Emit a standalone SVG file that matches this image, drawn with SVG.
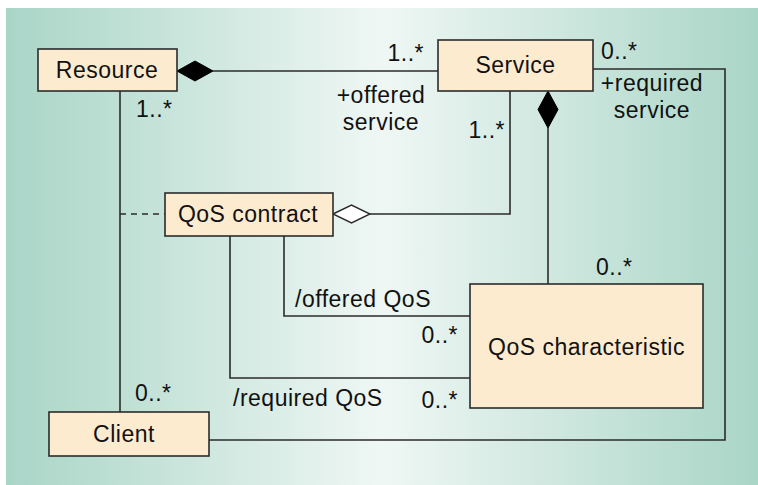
<svg xmlns="http://www.w3.org/2000/svg" width="758" height="485" viewBox="0 0 758 485">
<defs>
<linearGradient id="bg" x1="0" y1="0" x2="1" y2="0">
<stop offset="0" stop-color="#a9d5c7"/>
<stop offset="0.5" stop-color="#eff7f4"/>
<stop offset="1" stop-color="#a9d5c7"/>
</linearGradient>
<style>
.node{fill:#fdebd0;stroke:#2b2b2b;stroke-width:1.6}
.ln{fill:none;stroke:#2b2b2b;stroke-width:1.6}
.dash{fill:none;stroke:#2b2b2b;stroke-width:1.4;stroke-dasharray:6,5}
text{font-family:"Liberation Sans",Arial,sans-serif;font-size:23px;letter-spacing:0.5px;fill:#111}
.c{text-anchor:middle}
.e{text-anchor:end}
.fd{fill:#000;stroke:#000;stroke-width:1}
.hd{fill:#fff;stroke:#2b2b2b;stroke-width:1.4}
</style>
</defs>
<rect x="0" y="0" width="758" height="485" fill="#fff"/>
<rect x="6" y="8" width="752" height="477" fill="url(#bg)"/>
<g id="connectors">
<path class="ln" d="M213 71 H438"/>
<polygon class="fd" points="177,71 195,61 213,71 195,81"/>
<path class="ln" d="M593 69 H725 V440 H209"/>
<path class="ln" d="M120 91 V412"/>
<path class="dash" d="M120 214 H165"/>
<path class="ln" d="M370 214 H510 V91"/>
<polygon class="hd" points="333,214 351.5,205 370,214 351.5,223"/>
<path class="ln" d="M548 128 V284"/>
<polygon class="fd" points="548,91 558,109.5 548,128 538,109.5"/>
<path class="ln" d="M284 236 V316 H470"/>
<path class="ln" d="M230 236 V378 H470"/>
</g>
<g id="resource">
<rect class="node" x="38" y="49" width="139" height="42"/>
<text class="c" x="107" y="78">Resource</text>
</g>
<g id="service">
<rect class="node" x="438" y="40" width="155" height="51"/>
<text class="c" x="515.5" y="73">Service</text>
</g>
<g id="qos-contract">
<rect class="node" x="165" y="193" width="168" height="43"/>
<text class="c" x="248" y="222">QoS contract</text>
</g>
<g id="qos-characteristic">
<rect class="node" x="470" y="284" width="233" height="124"/>
<text class="c" x="586.5" y="355">QoS characteristic</text>
</g>
<g id="client">
<rect class="node" x="49" y="412" width="160" height="44"/>
<text class="c" x="124" y="442">Client</text>
</g>
<g id="labels">
<text class="e" x="424" y="61">1..*</text>
<text class="c" x="381" y="103">+offered</text>
<text class="c" x="381" y="130">service</text>
<text x="136" y="117">1..*</text>
<text x="601" y="59">0..*</text>
<text class="c" x="652" y="91">+required</text>
<text class="c" x="652" y="118">service</text>
<text class="e" x="505" y="138">1..*</text>
<text x="596" y="275">0..*</text>
<text x="295" y="307">/offered QoS</text>
<text class="e" x="458" y="343">0..*</text>
<text x="233" y="406">/required QoS</text>
<text class="e" x="458" y="408">0..*</text>
<text x="135" y="401">0..*</text>
</g>
</svg>
